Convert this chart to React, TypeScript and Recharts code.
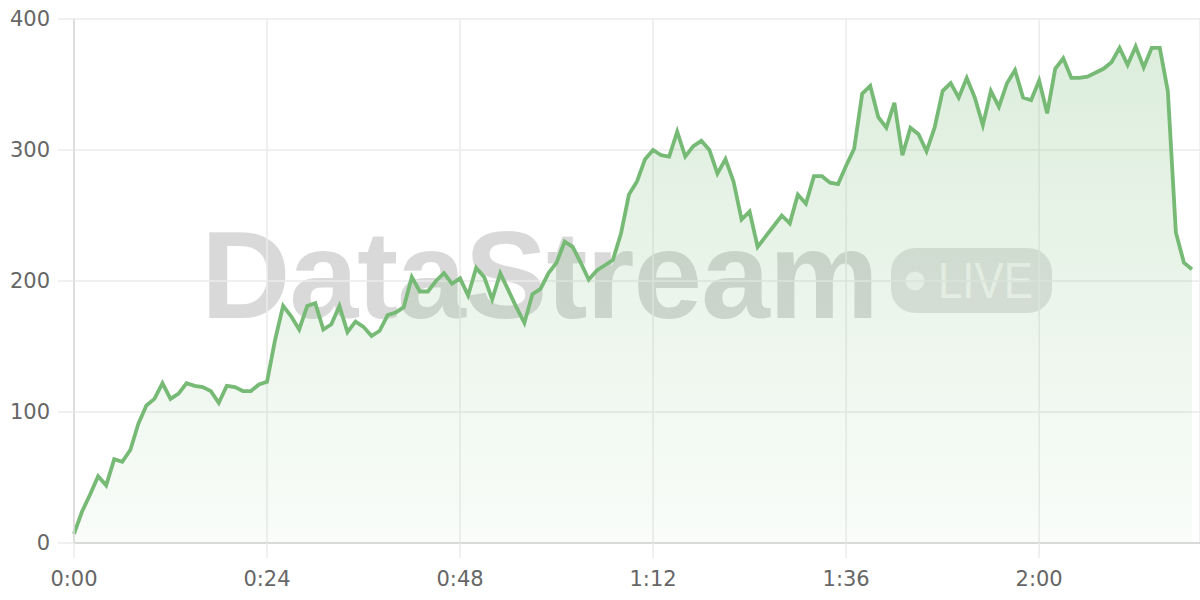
import React from 'react'
import { AreaChart, Area, XAxis, YAxis, CartesianGrid } from 'recharts'

// секунды от старта и значения потока
const SECONDS = [
  0, 1, 2, 3, 4, 5, 6, 7, 8, 9, 10, 11, 12, 13, 14, 15, 16, 17, 18, 19,
  20, 21, 22, 23, 24, 25, 26, 27, 28, 29, 30, 31, 32, 33, 34, 35, 36, 37, 38, 39,
  40, 41, 42, 43, 44, 45, 46, 47, 48, 49, 50, 51, 52, 53, 54, 55, 56, 57, 58, 59,
  60, 61, 62, 63, 64, 65, 66, 67, 68, 69, 70, 71, 72, 73, 74, 75, 76, 77, 78, 79,
  80, 81, 82, 83, 84, 85, 86, 87, 88, 89, 90, 91, 92, 93, 94, 95, 96, 97, 98, 99,
  100, 101, 102, 103, 104, 105, 106, 107, 108, 109, 110, 111, 112, 113, 114, 115, 116, 117, 118, 119,
  120, 121, 122, 123, 124, 125, 126, 127, 128, 129, 130, 131, 132, 133, 134, 135, 136, 137, 138, 139,
]

const VALUES = [
  7, 24, 37, 51, 44, 64, 62, 71, 91, 105, 110, 122, 110, 114, 122, 120, 119, 116, 107, 120,
  119, 116, 116, 121, 123, 155, 181, 173, 163, 181, 183, 163, 167, 181, 161, 169, 165, 158, 162, 174,
  176, 180, 203, 192, 192, 200, 206, 198, 202, 189, 210, 203, 186, 206, 193, 180, 168, 190, 194, 206,
  214, 230, 226, 214, 201, 208, 212, 216, 236, 266, 276, 293, 300, 296, 295, 314, 295, 303, 307, 300,
  282, 293, 276, 247, 253, 226, 234, 242, 250, 244, 266, 259, 280, 280, 275, 274, 288, 301, 343, 349,
  325, 317, 336, 296, 317, 312, 299, 317, 345, 351, 340, 355, 340, 319, 345, 333, 351, 361, 340, 338,
  353, 328, 362, 370, 355, 355, 356, 359, 362, 367, 378, 365, 379, 363, 378, 378, 345, 237, 214, 209,
]

const X_TICKS = [0, 24, 48, 72, 96, 120]
const Y_TICKS = [0, 100, 200, 300, 400]

const GREEN = '#76ba76'
const GRID = '#ebebeb'
const AXIS_FONT = { fill: '#666', fontSize: 21, fontFamily: 'DejaVu Sans' }

const data = SECONDS.map((t, i) => ({ t, v: VALUES[i] }))

const fmt = (s: number) => `${Math.floor(s / 60)}:${String(s % 60).padStart(2, '0')}`

function Watermark() {
  return (
    <svg width={1200} height={600} style={{ position: 'absolute', left: 0, top: 0 }}>
      <text x={201} y={318} fontFamily="Liberation Sans" fontWeight="bold" fontSize={124}
        textLength={678} lengthAdjust="spacing" fill="#000" fillOpacity={0.15}>
        DataStream
      </text>
      <rect x={891} y={248} width={161} height={65} rx={24} fill="#000" fillOpacity={0.11} />
      <circle cx={915} cy={281} r={9.5} fill="#fff" fillOpacity={0.7} />
      <text x={938} y={298} fontFamily="Liberation Sans" fontSize={50} textLength={95}
        lengthAdjust="spacingAndGlyphs" fill="#fff" fillOpacity={0.7}>
        LIVE
      </text>
    </svg>
  )
}

export default function App() {
  return (
    <div style={{ position: 'fixed', left: 0, top: 0, width: 1200, height: 600, background: '#fff' }}>
      <Watermark />
      <AreaChart width={1200} height={600} data={data}
        margin={{ top: 19, right: 0, bottom: 0, left: 0 }}>
        <defs>
          <linearGradient id="fillGreen" x1="0" y1="0" x2="0" y2="1">
            <stop offset="0%" stopColor={GREEN} stopOpacity={0.42} />
            <stop offset="100%" stopColor={GREEN} stopOpacity={0.07} />
          </linearGradient>
        </defs>
        <CartesianGrid stroke={GRID} strokeWidth={1.5} />
        <XAxis dataKey="t" type="number" domain={[0, 140]} ticks={X_TICKS} tickFormatter={fmt}
          height={57} tickSize={15} tickMargin={13} tick={AXIS_FONT}
          axisLine={{ stroke: '#d2d2d2', strokeWidth: 1.5 }} tickLine={{ stroke: GRID, strokeWidth: 1.5 }} />
        <YAxis domain={[0, 400]} ticks={Y_TICKS} width={74} tickSize={16} tickMargin={8}
          tick={AXIS_FONT}
          axisLine={{ stroke: '#d8d8d8', strokeWidth: 1.5 }} tickLine={{ stroke: GRID, strokeWidth: 1.5 }} />
        <Area type="linear" dataKey="v" stroke={GREEN} strokeWidth={3.8} fill="url(#fillGreen)"
          isAnimationActive={false} dot={false} activeDot={false} />
      </AreaChart>
    </div>
  )
}
